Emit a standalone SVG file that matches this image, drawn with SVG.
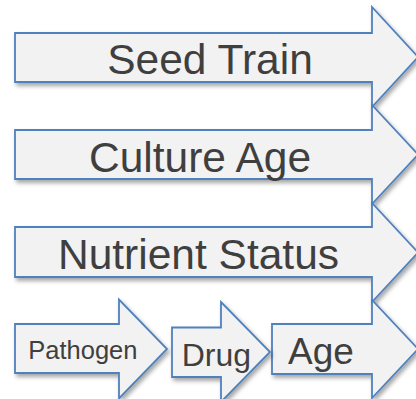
<svg xmlns="http://www.w3.org/2000/svg" width="416" height="399" viewBox="0 0 416 399">
  <defs>
    <filter id="shadow" x="-10%" y="-10%" width="130%" height="140%">
      <feDropShadow dx="2" dy="3" stdDeviation="2" flood-color="#000" flood-opacity="0.35"/>
    </filter>
  </defs>
  <style>
    .arrow { fill: #f2f2f2; stroke: #4f81bd; stroke-width: 1.8; stroke-linejoin: miter; filter: url(#shadow); }
    .label { font-family: "Liberation Sans", Arial, sans-serif; fill: #3f3f3f; }
    .big { font-size: 42.5px; text-anchor: middle; }
  </style>
  <rect width="416" height="399" fill="#ffffff"/>

  <g id="seed-train">
    <path class="arrow" d="M15,33 H372 V7 L418,57 L372,107 V82 H15 Z"/>
    <text class="label big" x="210" y="74">Seed Train</text>
  </g>

  <g id="culture-age">
    <path class="arrow" d="M15,130 H372 V105 L418,154.5 L372,204 V179 H15 Z"/>
    <text class="label big" x="200" y="172">Culture Age</text>
  </g>

  <g id="nutrient-status">
    <path class="arrow" d="M15,227 H372 V203 L418,252.5 L372,302 V277 H15 Z"/>
    <text class="label big" x="198.5" y="269">Nutrient Status</text>
  </g>

  <g id="age">
    <path class="arrow" d="M272,324 H372 V300 L418,349 L372,398 V374 H272 Z"/>
    <text class="label" x="288" y="364" font-size="37">Age</text>
  </g>

  <g id="pathogen">
    <path class="arrow" d="M15,324 H119 V299.5 L167,349 L119,398.5 V373 H15 Z"/>
    <text class="label" x="28.3" y="359.3" font-size="25.5">Pathogen</text>
  </g>

  <g id="drug">
    <path class="arrow" d="M172,327.5 H221 V302 L270,352 L221,402 V377 H172 Z"/>
    <text class="label" x="181.7" y="366" font-size="32">Drug</text>
  </g>

  <g id="connectors"/>
</svg>
